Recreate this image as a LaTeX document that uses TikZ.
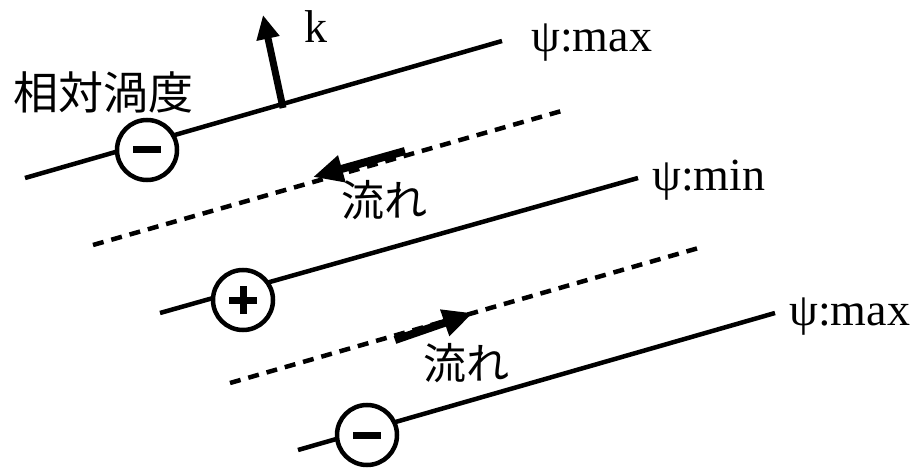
\documentclass[tikz,border=0pt]{standalone}
\usepackage{fontspec}
\setmainfont{Liberation Serif}
\newfontfamily\cjk{Noto Sans CJK JP}
\usetikzlibrary{arrows.meta}
\begin{document}
\begin{tikzpicture}[x=1pt,y=-1pt,
  isoline/.style={line width=4.5pt},
  midline/.style={line width=4.5pt,dash pattern=on 11pt off 8pt},
  vort/.style={circle,draw,line width=4.5pt,fill=white,minimum size=60pt,inner sep=0pt},
  sign/.style={line width=7pt},
  bigarrow/.style={line width=8pt,-{Triangle[length=30pt,width=26pt]}},
  karrow/.style={line width=7pt,-{Triangle[length=24pt,width=22pt]}},
  lab/.style={font=\fontsize{46}{50}\selectfont,inner sep=0pt,anchor=west},
  jlab/.style={font=\cjk\fontsize{43}{46}\selectfont,inner sep=0pt}]
\useasboundingbox (0,0) rectangle (916,468);
% isolines
\coordinate (a1) at (25,178); \coordinate (a2) at (502,41);
\coordinate (b1) at (93,245); \coordinate (b2) at (565,110);
\coordinate (c1) at (160,313); \coordinate (c2) at (638,178);
\coordinate (d1) at (230,383); \coordinate (d2) at (702,247);
\coordinate (e1) at (298,450); \coordinate (e2) at (775,313);
\draw[isoline] (a1) -- (a2);
\draw[midline] (b1) -- (b2);
\draw[isoline] (c1) -- (c2);
\draw[midline] (d1) -- (d2);
\draw[isoline] (e1) -- (e2);
% vortices
\node[vort] (v1) at (147,150) {};
\draw[sign] ([xshift=-14pt]v1.center) -- ([xshift=14pt]v1.center);
\node[vort] (v2) at (243,300) {};
\draw[sign] ([xshift=-14pt]v2.center) -- ([xshift=14pt]v2.center);
\draw[sign] ([yshift=-14pt]v2.center) -- ([yshift=14pt]v2.center);
\node[vort] (v3) at (367,435) {};
\draw[sign] ([xshift=-14pt]v3.center) -- ([xshift=14pt]v3.center);
% k arrow
\coordinate (k0) at (283,108); \coordinate (k1) at (263,15);
\draw[karrow] (k0) -- (k1);
\node[font=\fontsize{46}{50}\selectfont,inner sep=0pt] (k) at (316,27) {k};
% flow arrows
\coordinate (f1a) at (405,151); \coordinate (f1b) at (313,177);
\draw[bigarrow] (f1a) -- (f1b);
\coordinate (f2a) at (395,340); \coordinate (f2b) at (473,313);
\draw[bigarrow] (f2a) -- (f2b);
% labels
\node[jlab,font=\cjk\fontsize{45}{48}\selectfont] (rv) at (103,92) {相対渦度};
\node[jlab] (fl1) at (384,200) {流れ};
\node[jlab] (fl2) at (466,363) {流れ};
\node[lab] (p1) at (531,43) {ψ:max};
\node[lab] (p2) at (652,180) {ψ:min};
\node[lab] (p3) at (789,317) {ψ:max};
\end{tikzpicture}
\end{document}
